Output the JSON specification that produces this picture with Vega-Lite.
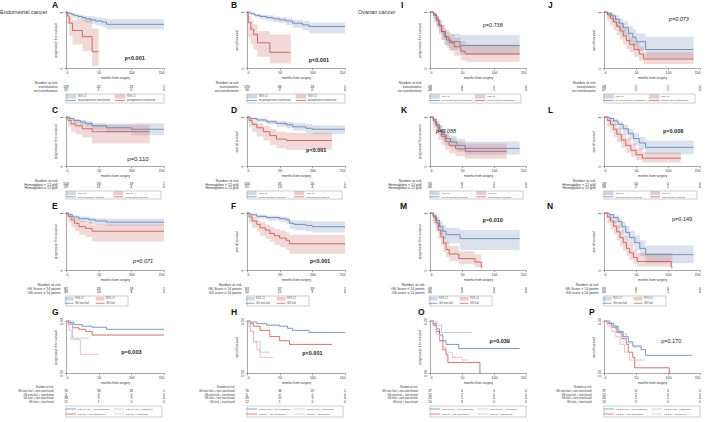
{
"$schema": "https://vega.github.io/schema/vega-lite/v6.json",
"padding": 0,
"config": {
 "font": "Liberation Sans",
 "view": {"stroke": null},
 "axis": {"grid": false, "labelFontSize": 3.5, "titleFontSize": 3.2, "titleFontWeight": "normal", "tickSize": 1.8, "tickWidth": 0.5, "domainWidth": 0.5, "domainColor": "#555", "tickColor": "#555", "labelColor": "#333", "titleColor": "#333", "labelPadding": 1, "titlePadding": 1.5},
 "title": {"fontSize": 8.5, "fontWeight": "bold", "anchor": "start", "frame": "group", "offset": 1, "color": "#111"},
 "range": {"category": ["#5a7dab", "#c0504d", "#a9c0da", "#eab3bd"]},
 "line": {"interpolate": "step-after", "strokeWidth": 0.8},
 "area": {"interpolate": "step-after", "opacity": 0.22},
 "text": {"color": "#222"}
},
"datasets": {
 "km": [
  {"p":"A","g":"a","t":0,"s":1,"lo":1,"hi":1},{"p":"A","g":"a","t":3,"s":0.98,"lo":0.95,"hi":1},{"p":"A","g":"a","t":8,"s":0.96,"lo":0.92,"hi":0.99},{"p":"A","g":"a","t":12,"s":0.94,"lo":0.89,"hi":0.97},{"p":"A","g":"a","t":18,"s":0.92,"lo":0.86,"hi":0.96},{"p":"A","g":"a","t":25,"s":0.9,"lo":0.84,"hi":0.94},{"p":"A","g":"a","t":30,"s":0.88,"lo":0.81,"hi":0.93},{"p":"A","g":"a","t":38,"s":0.86,"lo":0.79,"hi":0.92},{"p":"A","g":"a","t":45,"s":0.84,"lo":0.76,"hi":0.9},{"p":"A","g":"a","t":55,"s":0.82,"lo":0.73,"hi":0.89},{"p":"A","g":"a","t":62,"s":0.78,"lo":0.69,"hi":0.87},{"p":"A","g":"a","t":150,"s":0.78,"lo":0.69,"hi":0.87},
  {"p":"A","g":"b","t":0,"s":1,"lo":1,"hi":1},{"p":"A","g":"b","t":2,"s":0.93,"lo":0.78,"hi":0.98},{"p":"A","g":"b","t":5,"s":0.8,"lo":0.58,"hi":0.92},{"p":"A","g":"b","t":10,"s":0.67,"lo":0.42,"hi":0.86},{"p":"A","g":"b","t":25,"s":0.56,"lo":0.3,"hi":0.86},{"p":"A","g":"b","t":40,"s":0.29,"lo":0.03,"hi":0.7},{"p":"A","g":"b","t":50,"s":0.29,"lo":0.03,"hi":0.7},
  {"p":"B","g":"a","t":0,"s":1,"lo":1,"hi":1},{"p":"B","g":"a","t":5,"s":0.97,"lo":0.94,"hi":0.99},{"p":"B","g":"a","t":12,"s":0.94,"lo":0.9,"hi":0.97},{"p":"B","g":"a","t":20,"s":0.92,"lo":0.87,"hi":0.95},{"p":"B","g":"a","t":30,"s":0.9,"lo":0.85,"hi":0.94},{"p":"B","g":"a","t":40,"s":0.88,"lo":0.82,"hi":0.92},{"p":"B","g":"a","t":50,"s":0.86,"lo":0.8,"hi":0.91},{"p":"B","g":"a","t":60,"s":0.84,"lo":0.77,"hi":0.89},{"p":"B","g":"a","t":70,"s":0.8,"lo":0.72,"hi":0.86},{"p":"B","g":"a","t":85,"s":0.77,"lo":0.68,"hi":0.84},{"p":"B","g":"a","t":95,"s":0.74,"lo":0.62,"hi":0.81},{"p":"B","g":"a","t":150,"s":0.74,"lo":0.62,"hi":0.81},
  {"p":"B","g":"b","t":0,"s":1,"lo":1,"hi":1},{"p":"B","g":"b","t":2,"s":0.81,"lo":0.55,"hi":0.93},{"p":"B","g":"b","t":6,"s":0.69,"lo":0.42,"hi":0.85},{"p":"B","g":"b","t":10,"s":0.6,"lo":0.33,"hi":0.78},{"p":"B","g":"b","t":16,"s":0.45,"lo":0.2,"hi":0.66},{"p":"B","g":"b","t":35,"s":0.28,"lo":0.08,"hi":0.6},{"p":"B","g":"b","t":67,"s":0.28,"lo":0.08,"hi":0.6},
  {"p":"C","g":"a","t":0,"s":1,"lo":1,"hi":1},{"p":"C","g":"a","t":5,"s":0.97,"lo":0.93,"hi":0.99},{"p":"C","g":"a","t":12,"s":0.93,"lo":0.88,"hi":0.96},{"p":"C","g":"a","t":22,"s":0.9,"lo":0.84,"hi":0.94},{"p":"C","g":"a","t":30,"s":0.87,"lo":0.8,"hi":0.92},{"p":"C","g":"a","t":40,"s":0.82,"lo":0.74,"hi":0.88},{"p":"C","g":"a","t":62,"s":0.78,"lo":0.69,"hi":0.86},{"p":"C","g":"a","t":100,"s":0.75,"lo":0.63,"hi":0.87},{"p":"C","g":"a","t":150,"s":0.75,"lo":0.63,"hi":0.87},
  {"p":"C","g":"b","t":0,"s":1,"lo":1,"hi":1},{"p":"C","g":"b","t":3,"s":0.93,"lo":0.8,"hi":0.98},{"p":"C","g":"b","t":8,"s":0.86,"lo":0.7,"hi":0.94},{"p":"C","g":"b","t":15,"s":0.82,"lo":0.65,"hi":0.91},{"p":"C","g":"b","t":25,"s":0.76,"lo":0.58,"hi":0.87},{"p":"C","g":"b","t":40,"s":0.7,"lo":0.46,"hi":0.84},{"p":"C","g":"b","t":128,"s":0.7,"lo":0.46,"hi":0.84},
  {"p":"D","g":"a","t":0,"s":1,"lo":1,"hi":1},{"p":"D","g":"a","t":5,"s":0.97,"lo":0.94,"hi":0.99},{"p":"D","g":"a","t":15,"s":0.94,"lo":0.9,"hi":0.97},{"p":"D","g":"a","t":30,"s":0.9,"lo":0.85,"hi":0.94},{"p":"D","g":"a","t":45,"s":0.87,"lo":0.8,"hi":0.92},{"p":"D","g":"a","t":60,"s":0.84,"lo":0.77,"hi":0.9},{"p":"D","g":"a","t":70,"s":0.8,"lo":0.72,"hi":0.87},{"p":"D","g":"a","t":90,"s":0.77,"lo":0.68,"hi":0.85},{"p":"D","g":"a","t":100,"s":0.75,"lo":0.65,"hi":0.83},{"p":"D","g":"a","t":150,"s":0.75,"lo":0.65,"hi":0.83},
  {"p":"D","g":"b","t":0,"s":1,"lo":1,"hi":1},{"p":"D","g":"b","t":3,"s":0.93,"lo":0.8,"hi":0.98},{"p":"D","g":"b","t":8,"s":0.85,"lo":0.69,"hi":0.93},{"p":"D","g":"b","t":15,"s":0.78,"lo":0.6,"hi":0.88},{"p":"D","g":"b","t":25,"s":0.7,"lo":0.52,"hi":0.82},{"p":"D","g":"b","t":35,"s":0.62,"lo":0.43,"hi":0.76},{"p":"D","g":"b","t":45,"s":0.55,"lo":0.36,"hi":0.7},{"p":"D","g":"b","t":60,"s":0.52,"lo":0.33,"hi":0.68},{"p":"D","g":"b","t":130,"s":0.52,"lo":0.33,"hi":0.68},
  {"p":"E","g":"a","t":0,"s":1,"lo":1,"hi":1},{"p":"E","g":"a","t":4,"s":0.97,"lo":0.94,"hi":0.99},{"p":"E","g":"a","t":10,"s":0.93,"lo":0.88,"hi":0.96},{"p":"E","g":"a","t":20,"s":0.9,"lo":0.84,"hi":0.94},{"p":"E","g":"a","t":35,"s":0.88,"lo":0.81,"hi":0.92},{"p":"E","g":"a","t":45,"s":0.86,"lo":0.79,"hi":0.91},{"p":"E","g":"a","t":62,"s":0.84,"lo":0.77,"hi":0.9},{"p":"E","g":"a","t":150,"s":0.84,"lo":0.77,"hi":0.9},
  {"p":"E","g":"b","t":0,"s":1,"lo":1,"hi":1},{"p":"E","g":"b","t":3,"s":0.94,"lo":0.84,"hi":0.98},{"p":"E","g":"b","t":8,"s":0.88,"lo":0.76,"hi":0.94},{"p":"E","g":"b","t":13,"s":0.82,"lo":0.69,"hi":0.9},{"p":"E","g":"b","t":20,"s":0.76,"lo":0.62,"hi":0.86},{"p":"E","g":"b","t":30,"s":0.73,"lo":0.58,"hi":0.84},{"p":"E","g":"b","t":40,"s":0.68,"lo":0.5,"hi":0.8},{"p":"E","g":"b","t":150,"s":0.68,"lo":0.5,"hi":0.8},
  {"p":"F","g":"a","t":0,"s":1,"lo":1,"hi":1},{"p":"F","g":"a","t":5,"s":0.97,"lo":0.94,"hi":0.99},{"p":"F","g":"a","t":15,"s":0.94,"lo":0.9,"hi":0.97},{"p":"F","g":"a","t":30,"s":0.92,"lo":0.87,"hi":0.95},{"p":"F","g":"a","t":50,"s":0.9,"lo":0.84,"hi":0.94},{"p":"F","g":"a","t":60,"s":0.88,"lo":0.81,"hi":0.93},{"p":"F","g":"a","t":65,"s":0.82,"lo":0.73,"hi":0.88},{"p":"F","g":"a","t":72,"s":0.8,"lo":0.7,"hi":0.87},{"p":"F","g":"a","t":90,"s":0.78,"lo":0.68,"hi":0.86},{"p":"F","g":"a","t":100,"s":0.76,"lo":0.66,"hi":0.85},{"p":"F","g":"a","t":150,"s":0.76,"lo":0.66,"hi":0.85},
  {"p":"F","g":"b","t":0,"s":1,"lo":1,"hi":1},{"p":"F","g":"b","t":3,"s":0.93,"lo":0.83,"hi":0.97},{"p":"F","g":"b","t":8,"s":0.86,"lo":0.74,"hi":0.93},{"p":"F","g":"b","t":15,"s":0.8,"lo":0.67,"hi":0.88},{"p":"F","g":"b","t":20,"s":0.74,"lo":0.6,"hi":0.84},{"p":"F","g":"b","t":28,"s":0.7,"lo":0.55,"hi":0.8},{"p":"F","g":"b","t":35,"s":0.64,"lo":0.49,"hi":0.76},{"p":"F","g":"b","t":42,"s":0.6,"lo":0.44,"hi":0.72},{"p":"F","g":"b","t":50,"s":0.56,"lo":0.4,"hi":0.69},{"p":"F","g":"b","t":60,"s":0.52,"lo":0.35,"hi":0.66},{"p":"F","g":"b","t":65,"s":0.46,"lo":0.28,"hi":0.62},{"p":"F","g":"b","t":150,"s":0.46,"lo":0.28,"hi":0.62},
  {"p":"G","g":"a","t":0,"s":1},{"p":"G","g":"a","t":5,"s":0.97},{"p":"G","g":"a","t":12,"s":0.93},{"p":"G","g":"a","t":25,"s":0.9},{"p":"G","g":"a","t":40,"s":0.88},{"p":"G","g":"a","t":62,"s":0.84},{"p":"G","g":"a","t":150,"s":0.84},
  {"p":"G","g":"b","t":0,"s":1},{"p":"G","g":"b","t":4,"s":0.94},{"p":"G","g":"b","t":10,"s":0.87},{"p":"G","g":"b","t":20,"s":0.84},{"p":"G","g":"b","t":30,"s":0.8},{"p":"G","g":"b","t":40,"s":0.73},{"p":"G","g":"b","t":150,"s":0.73},
  {"p":"G","g":"c","t":0,"s":1},{"p":"G","g":"c","t":10,"s":0.67},{"p":"G","g":"c","t":35,"s":0.67},
  {"p":"G","g":"d","t":0,"s":1},{"p":"G","g":"d","t":3,"s":0.91},{"p":"G","g":"d","t":5,"s":0.82},{"p":"G","g":"d","t":8,"s":0.64},{"p":"G","g":"d","t":22,"s":0.36},{"p":"G","g":"d","t":50,"s":0.36},
  {"p":"H","g":"a","t":0,"s":1},{"p":"H","g":"a","t":5,"s":0.98},{"p":"H","g":"a","t":15,"s":0.95},{"p":"H","g":"a","t":30,"s":0.92},{"p":"H","g":"a","t":50,"s":0.9},{"p":"H","g":"a","t":62,"s":0.86},{"p":"H","g":"a","t":70,"s":0.82},{"p":"H","g":"a","t":95,"s":0.78},{"p":"H","g":"a","t":150,"s":0.78},
  {"p":"H","g":"b","t":0,"s":1},{"p":"H","g":"b","t":5,"s":0.95},{"p":"H","g":"b","t":10,"s":0.9},{"p":"H","g":"b","t":20,"s":0.82},{"p":"H","g":"b","t":35,"s":0.7},{"p":"H","g":"b","t":50,"s":0.62},{"p":"H","g":"b","t":65,"s":0.55},{"p":"H","g":"b","t":130,"s":0.55},
  {"p":"H","g":"c","t":0,"s":1},{"p":"H","g":"c","t":5,"s":0.8},{"p":"H","g":"c","t":10,"s":0.6},{"p":"H","g":"c","t":20,"s":0.4},{"p":"H","g":"c","t":35,"s":0.4},
  {"p":"H","g":"d","t":0,"s":1},{"p":"H","g":"d","t":3,"s":0.9},{"p":"H","g":"d","t":6,"s":0.8},{"p":"H","g":"d","t":10,"s":0.6},{"p":"H","g":"d","t":15,"s":0.45},{"p":"H","g":"d","t":20,"s":0.3},{"p":"H","g":"d","t":40,"s":0.3},
  {"p":"I","g":"a","t":0,"s":1,"lo":1,"hi":1},{"p":"I","g":"a","t":5,"s":0.96,"lo":0.88,"hi":0.99},{"p":"I","g":"a","t":10,"s":0.88,"lo":0.76,"hi":0.94},{"p":"I","g":"a","t":14,"s":0.77,"lo":0.63,"hi":0.86},{"p":"I","g":"a","t":18,"s":0.65,"lo":0.5,"hi":0.77},{"p":"I","g":"a","t":22,"s":0.57,"lo":0.42,"hi":0.7},{"p":"I","g":"a","t":26,"s":0.5,"lo":0.35,"hi":0.64},{"p":"I","g":"a","t":32,"s":0.47,"lo":0.32,"hi":0.61},{"p":"I","g":"a","t":47,"s":0.4,"lo":0.23,"hi":0.59},{"p":"I","g":"a","t":140,"s":0.4,"lo":0.23,"hi":0.59},
  {"p":"I","g":"b","t":0,"s":1,"lo":1,"hi":1},{"p":"I","g":"b","t":6,"s":0.94,"lo":0.82,"hi":0.98},{"p":"I","g":"b","t":10,"s":0.85,"lo":0.71,"hi":0.93},{"p":"I","g":"b","t":14,"s":0.75,"lo":0.6,"hi":0.85},{"p":"I","g":"b","t":18,"s":0.65,"lo":0.5,"hi":0.77},{"p":"I","g":"b","t":24,"s":0.55,"lo":0.4,"hi":0.68},{"p":"I","g":"b","t":30,"s":0.45,"lo":0.3,"hi":0.6},{"p":"I","g":"b","t":38,"s":0.38,"lo":0.22,"hi":0.54},{"p":"I","g":"b","t":48,"s":0.3,"lo":0.14,"hi":0.48},{"p":"I","g":"b","t":55,"s":0.25,"lo":0.11,"hi":0.42},{"p":"I","g":"b","t":140,"s":0.25,"lo":0.11,"hi":0.42},
  {"p":"J","g":"a","t":0,"s":1,"lo":1,"hi":1},{"p":"J","g":"a","t":5,"s":0.98,"lo":0.9,"hi":1},{"p":"J","g":"a","t":12,"s":0.93,"lo":0.82,"hi":0.97},{"p":"J","g":"a","t":18,"s":0.87,"lo":0.74,"hi":0.94},{"p":"J","g":"a","t":24,"s":0.8,"lo":0.66,"hi":0.89},{"p":"J","g":"a","t":30,"s":0.72,"lo":0.57,"hi":0.83},{"p":"J","g":"a","t":38,"s":0.62,"lo":0.46,"hi":0.75},{"p":"J","g":"a","t":45,"s":0.55,"lo":0.39,"hi":0.69},{"p":"J","g":"a","t":50,"s":0.47,"lo":0.31,"hi":0.62},{"p":"J","g":"a","t":65,"s":0.33,"lo":0.17,"hi":0.56},{"p":"J","g":"a","t":140,"s":0.33,"lo":0.17,"hi":0.56},
  {"p":"J","g":"b","t":0,"s":1,"lo":1,"hi":1},{"p":"J","g":"b","t":5,"s":0.95,"lo":0.85,"hi":0.98},{"p":"J","g":"b","t":10,"s":0.89,"lo":0.76,"hi":0.95},{"p":"J","g":"b","t":15,"s":0.82,"lo":0.68,"hi":0.9},{"p":"J","g":"b","t":20,"s":0.74,"lo":0.59,"hi":0.84},{"p":"J","g":"b","t":25,"s":0.66,"lo":0.51,"hi":0.78},{"p":"J","g":"b","t":30,"s":0.57,"lo":0.42,"hi":0.7},{"p":"J","g":"b","t":35,"s":0.49,"lo":0.34,"hi":0.62},{"p":"J","g":"b","t":40,"s":0.42,"lo":0.28,"hi":0.55},{"p":"J","g":"b","t":47,"s":0.33,"lo":0.2,"hi":0.46},{"p":"J","g":"b","t":55,"s":0.25,"lo":0.13,"hi":0.38},{"p":"J","g":"b","t":62,"s":0.16,"lo":0.07,"hi":0.28},{"p":"J","g":"b","t":140,"s":0.16,"lo":0.07,"hi":0.28},
  {"p":"K","g":"a","t":0,"s":1,"lo":1,"hi":1},{"p":"K","g":"a","t":5,"s":0.95,"lo":0.86,"hi":0.98},{"p":"K","g":"a","t":10,"s":0.85,"lo":0.74,"hi":0.92},{"p":"K","g":"a","t":15,"s":0.74,"lo":0.61,"hi":0.83},{"p":"K","g":"a","t":20,"s":0.64,"lo":0.51,"hi":0.74},{"p":"K","g":"a","t":25,"s":0.56,"lo":0.43,"hi":0.67},{"p":"K","g":"a","t":32,"s":0.49,"lo":0.36,"hi":0.61},{"p":"K","g":"a","t":42,"s":0.42,"lo":0.29,"hi":0.55},{"p":"K","g":"a","t":55,"s":0.36,"lo":0.23,"hi":0.5},{"p":"K","g":"a","t":140,"s":0.36,"lo":0.23,"hi":0.5},
  {"p":"K","g":"b","t":0,"s":1,"lo":1,"hi":1},{"p":"K","g":"b","t":5,"s":0.92,"lo":0.78,"hi":0.97},{"p":"K","g":"b","t":9,"s":0.82,"lo":0.66,"hi":0.91},{"p":"K","g":"b","t":13,"s":0.7,"lo":0.53,"hi":0.82},{"p":"K","g":"b","t":18,"s":0.6,"lo":0.43,"hi":0.74},{"p":"K","g":"b","t":24,"s":0.5,"lo":0.33,"hi":0.65},{"p":"K","g":"b","t":30,"s":0.42,"lo":0.26,"hi":0.57},{"p":"K","g":"b","t":40,"s":0.35,"lo":0.2,"hi":0.5},{"p":"K","g":"b","t":55,"s":0.3,"lo":0.15,"hi":0.46},{"p":"K","g":"b","t":120,"s":0.3,"lo":0.15,"hi":0.46},
  {"p":"L","g":"a","t":0,"s":1,"lo":1,"hi":1},{"p":"L","g":"a","t":8,"s":0.97,"lo":0.9,"hi":0.99},{"p":"L","g":"a","t":15,"s":0.92,"lo":0.83,"hi":0.96},{"p":"L","g":"a","t":22,"s":0.85,"lo":0.74,"hi":0.91},{"p":"L","g":"a","t":30,"s":0.76,"lo":0.64,"hi":0.84},{"p":"L","g":"a","t":38,"s":0.66,"lo":0.53,"hi":0.76},{"p":"L","g":"a","t":46,"s":0.56,"lo":0.42,"hi":0.67},{"p":"L","g":"a","t":55,"s":0.47,"lo":0.33,"hi":0.59},{"p":"L","g":"a","t":65,"s":0.38,"lo":0.24,"hi":0.52},{"p":"L","g":"a","t":140,"s":0.38,"lo":0.24,"hi":0.52},
  {"p":"L","g":"b","t":0,"s":1,"lo":1,"hi":1},{"p":"L","g":"b","t":5,"s":0.93,"lo":0.8,"hi":0.98},{"p":"L","g":"b","t":10,"s":0.85,"lo":0.7,"hi":0.93},{"p":"L","g":"b","t":15,"s":0.75,"lo":0.59,"hi":0.86},{"p":"L","g":"b","t":20,"s":0.65,"lo":0.49,"hi":0.77},{"p":"L","g":"b","t":27,"s":0.53,"lo":0.37,"hi":0.66},{"p":"L","g":"b","t":34,"s":0.42,"lo":0.27,"hi":0.56},{"p":"L","g":"b","t":42,"s":0.32,"lo":0.19,"hi":0.46},{"p":"L","g":"b","t":50,"s":0.23,"lo":0.12,"hi":0.36},{"p":"L","g":"b","t":60,"s":0.16,"lo":0.07,"hi":0.28},{"p":"L","g":"b","t":120,"s":0.16,"lo":0.07,"hi":0.28},
  {"p":"M","g":"a","t":0,"s":1,"lo":1,"hi":1},{"p":"M","g":"a","t":5,"s":0.95,"lo":0.86,"hi":0.99},{"p":"M","g":"a","t":10,"s":0.87,"lo":0.75,"hi":0.94},{"p":"M","g":"a","t":15,"s":0.76,"lo":0.62,"hi":0.86},{"p":"M","g":"a","t":20,"s":0.68,"lo":0.54,"hi":0.79},{"p":"M","g":"a","t":25,"s":0.62,"lo":0.47,"hi":0.74},{"p":"M","g":"a","t":47,"s":0.55,"lo":0.35,"hi":0.7},{"p":"M","g":"a","t":140,"s":0.55,"lo":0.35,"hi":0.7},
  {"p":"M","g":"b","t":0,"s":1,"lo":1,"hi":1},{"p":"M","g":"b","t":5,"s":0.93,"lo":0.8,"hi":0.98},{"p":"M","g":"b","t":9,"s":0.83,"lo":0.68,"hi":0.91},{"p":"M","g":"b","t":13,"s":0.7,"lo":0.55,"hi":0.81},{"p":"M","g":"b","t":17,"s":0.58,"lo":0.43,"hi":0.71},{"p":"M","g":"b","t":21,"s":0.47,"lo":0.32,"hi":0.6},{"p":"M","g":"b","t":25,"s":0.36,"lo":0.23,"hi":0.5},{"p":"M","g":"b","t":30,"s":0.28,"lo":0.16,"hi":0.42},{"p":"M","g":"b","t":45,"s":0.2,"lo":0.1,"hi":0.33},{"p":"M","g":"b","t":70,"s":0.14,"lo":0.05,"hi":0.27},{"p":"M","g":"b","t":80,"s":0.05,"lo":0.01,"hi":0.15},{"p":"M","g":"b","t":82,"s":0.05,"lo":0.01,"hi":0.15},
  {"p":"N","g":"a","t":0,"s":1,"lo":1,"hi":1},{"p":"N","g":"a","t":8,"s":0.97,"lo":0.9,"hi":0.99},{"p":"N","g":"a","t":15,"s":0.92,"lo":0.82,"hi":0.96},{"p":"N","g":"a","t":22,"s":0.85,"lo":0.73,"hi":0.92},{"p":"N","g":"a","t":28,"s":0.76,"lo":0.63,"hi":0.85},{"p":"N","g":"a","t":34,"s":0.66,"lo":0.52,"hi":0.77},{"p":"N","g":"a","t":40,"s":0.57,"lo":0.43,"hi":0.69},{"p":"N","g":"a","t":48,"s":0.48,"lo":0.34,"hi":0.61},{"p":"N","g":"a","t":56,"s":0.38,"lo":0.24,"hi":0.52},{"p":"N","g":"a","t":65,"s":0.27,"lo":0.12,"hi":0.43},{"p":"N","g":"a","t":140,"s":0.27,"lo":0.12,"hi":0.43},
  {"p":"N","g":"b","t":0,"s":1,"lo":1,"hi":1},{"p":"N","g":"b","t":5,"s":0.93,"lo":0.82,"hi":0.98},{"p":"N","g":"b","t":10,"s":0.86,"lo":0.72,"hi":0.93},{"p":"N","g":"b","t":15,"s":0.77,"lo":0.62,"hi":0.87},{"p":"N","g":"b","t":20,"s":0.67,"lo":0.52,"hi":0.79},{"p":"N","g":"b","t":25,"s":0.57,"lo":0.42,"hi":0.7},{"p":"N","g":"b","t":30,"s":0.48,"lo":0.33,"hi":0.61},{"p":"N","g":"b","t":35,"s":0.38,"lo":0.25,"hi":0.52},{"p":"N","g":"b","t":40,"s":0.3,"lo":0.18,"hi":0.44},{"p":"N","g":"b","t":46,"s":0.22,"lo":0.11,"hi":0.35},{"p":"N","g":"b","t":52,"s":0.15,"lo":0.06,"hi":0.3},{"p":"N","g":"b","t":105,"s":0.05,"lo":0.01,"hi":0.3},{"p":"N","g":"b","t":107,"s":0.05,"lo":0.01,"hi":0.3},
  {"p":"O","g":"a","t":0,"s":1},{"p":"O","g":"a","t":5,"s":0.95},{"p":"O","g":"a","t":10,"s":0.85},{"p":"O","g":"a","t":15,"s":0.73},{"p":"O","g":"a","t":20,"s":0.62},{"p":"O","g":"a","t":25,"s":0.55},{"p":"O","g":"a","t":45,"s":0.47},{"p":"O","g":"a","t":140,"s":0.47},
  {"p":"O","g":"b","t":0,"s":1},{"p":"O","g":"b","t":5,"s":0.92},{"p":"O","g":"b","t":10,"s":0.8},{"p":"O","g":"b","t":15,"s":0.62},{"p":"O","g":"b","t":20,"s":0.45},{"p":"O","g":"b","t":25,"s":0.35},{"p":"O","g":"b","t":28,"s":0.2},{"p":"O","g":"b","t":78,"s":0},{"p":"O","g":"b","t":79,"s":0},
  {"p":"O","g":"c","t":0,"s":1},{"p":"O","g":"c","t":10,"s":0.92},{"p":"O","g":"c","t":18,"s":0.78},{"p":"O","g":"c","t":65,"s":0.78},
  {"p":"O","g":"d","t":0,"s":1},{"p":"O","g":"d","t":5,"s":0.9},{"p":"O","g":"d","t":10,"s":0.75},{"p":"O","g":"d","t":15,"s":0.6},{"p":"O","g":"d","t":20,"s":0.5},{"p":"O","g":"d","t":25,"s":0.4},{"p":"O","g":"d","t":35,"s":0.3},{"p":"O","g":"d","t":50,"s":0.25},{"p":"O","g":"d","t":60,"s":0.25},
  {"p":"P","g":"a","t":0,"s":1},{"p":"P","g":"a","t":8,"s":0.96},{"p":"P","g":"a","t":15,"s":0.9},{"p":"P","g":"a","t":22,"s":0.8},{"p":"P","g":"a","t":30,"s":0.7},{"p":"P","g":"a","t":38,"s":0.6},{"p":"P","g":"a","t":45,"s":0.52},{"p":"P","g":"a","t":58,"s":0.45},{"p":"P","g":"a","t":65,"s":0.34},{"p":"P","g":"a","t":138,"s":0.34},
  {"p":"P","g":"b","t":0,"s":1},{"p":"P","g":"b","t":5,"s":0.95},{"p":"P","g":"b","t":12,"s":0.88},{"p":"P","g":"b","t":20,"s":0.78},{"p":"P","g":"b","t":28,"s":0.66},{"p":"P","g":"b","t":35,"s":0.55},{"p":"P","g":"b","t":38,"s":0.4},{"p":"P","g":"b","t":45,"s":0.3},{"p":"P","g":"b","t":48,"s":0.1},{"p":"P","g":"b","t":102,"s":0},{"p":"P","g":"b","t":104,"s":0},
  {"p":"P","g":"c","t":0,"s":1},{"p":"P","g":"c","t":10,"s":0.92},{"p":"P","g":"c","t":18,"s":0.83},{"p":"P","g":"c","t":25,"s":0.75},{"p":"P","g":"c","t":35,"s":0.58},{"p":"P","g":"c","t":45,"s":0.5},{"p":"P","g":"c","t":60,"s":0.5},
  {"p":"P","g":"d","t":0,"s":1},{"p":"P","g":"d","t":6,"s":0.9},{"p":"P","g":"d","t":12,"s":0.8},{"p":"P","g":"d","t":18,"s":0.7},{"p":"P","g":"d","t":25,"s":0.55},{"p":"P","g":"d","t":32,"s":0.4},{"p":"P","g":"d","t":40,"s":0.25},{"p":"P","g":"d","t":65,"s":0.25}
 ],
 "pv": [
  {"p":"A","t":105,"s":0.18,"label":"p<0.001"},{"p":"B","t":110,"s":0.15,"label":"p<0.001"},{"p":"C","t":110,"s":0.14,"label":"p=0.110"},{"p":"D","t":106,"s":0.32,"label":"p<0.001"},
  {"p":"E","t":118,"s":0.15,"label":"p=0.071"},{"p":"F","t":112,"s":0.15,"label":"p<0.001"},{"p":"G","t":100,"s":0.4,"label":"p=0.003"},{"p":"H","t":100,"s":0.38,"label":"p<0.001"},
  {"p":"I","t":98,"s":0.76,"label":"p=0.738"},{"p":"J","t":117,"s":0.88,"label":"p=0.073"},{"p":"K","t":25,"s":0.72,"label":"p=0.088"},{"p":"L","t":108,"s":0.72,"label":"p=0.008"},
  {"p":"M","t":98,"s":0.87,"label":"p=0.010"},{"p":"N","t":122,"s":0.89,"label":"p=0.149"},{"p":"O","t":109,"s":0.62,"label":"p=0.039"},{"p":"P","t":105,"s":0.62,"label":"p=0.170"}
 ],
 "risk": [
  {"p":"A","r":"transfusions","t":0,"n":119},{"p":"A","r":"transfusions","t":50,"n":42},{"p":"A","r":"transfusions","t":100,"n":23},{"p":"A","r":"transfusions","t":150,"n":1},
  {"p":"A","r":"no transfusions","t":0,"n":15},{"p":"A","r":"no transfusions","t":50,"n":1},{"p":"A","r":"no transfusions","t":100,"n":0},{"p":"A","r":"no transfusions","t":150,"n":0},
  {"p":"B","r":"transfusions","t":0,"n":120},{"p":"B","r":"transfusions","t":50,"n":46},{"p":"B","r":"transfusions","t":100,"n":24},{"p":"B","r":"transfusions","t":150,"n":1},
  {"p":"B","r":"no transfusions","t":0,"n":16},{"p":"B","r":"no transfusions","t":50,"n":2},{"p":"B","r":"no transfusions","t":100,"n":0},{"p":"B","r":"no transfusions","t":150,"n":0},
  {"p":"C","r":"Hemoglobin > 12 g/dl","t":0,"n":104},{"p":"C","r":"Hemoglobin > 12 g/dl","t":50,"n":33},{"p":"C","r":"Hemoglobin > 12 g/dl","t":100,"n":19},{"p":"C","r":"Hemoglobin > 12 g/dl","t":150,"n":1},
  {"p":"C","r":"Hemoglobin ≤ 12 g/dl","t":0,"n":29},{"p":"C","r":"Hemoglobin ≤ 12 g/dl","t":50,"n":11},{"p":"C","r":"Hemoglobin ≤ 12 g/dl","t":100,"n":4},{"p":"C","r":"Hemoglobin ≤ 12 g/dl","t":150,"n":0},
  {"p":"D","r":"Hemoglobin > 12 g/dl","t":0,"n":104},{"p":"D","r":"Hemoglobin > 12 g/dl","t":50,"n":35},{"p":"D","r":"Hemoglobin > 12 g/dl","t":100,"n":20},{"p":"D","r":"Hemoglobin > 12 g/dl","t":150,"n":1},
  {"p":"D","r":"Hemoglobin ≤ 12 g/dl","t":0,"n":31},{"p":"D","r":"Hemoglobin ≤ 12 g/dl","t":50,"n":13},{"p":"D","r":"Hemoglobin ≤ 12 g/dl","t":100,"n":4},{"p":"D","r":"Hemoglobin ≤ 12 g/dl","t":150,"n":0},
  {"p":"E","r":"GS Score < 14 points","t":0,"n":82},{"p":"E","r":"GS Score < 14 points","t":50,"n":33},{"p":"E","r":"GS Score < 14 points","t":100,"n":19},{"p":"E","r":"GS Score < 14 points","t":150,"n":1},
  {"p":"E","r":"GS score ≥ 14 points","t":0,"n":49},{"p":"E","r":"GS score ≥ 14 points","t":50,"n":10},{"p":"E","r":"GS score ≥ 14 points","t":100,"n":3},{"p":"E","r":"GS score ≥ 14 points","t":150,"n":0},
  {"p":"F","r":"GS Score < 14 points","t":0,"n":83},{"p":"F","r":"GS Score < 14 points","t":50,"n":37},{"p":"F","r":"GS Score < 14 points","t":100,"n":19},{"p":"F","r":"GS Score < 14 points","t":150,"n":1},
  {"p":"F","r":"GS score ≥ 14 points","t":0,"n":50},{"p":"F","r":"GS score ≥ 14 points","t":50,"n":11},{"p":"F","r":"GS score ≥ 14 points","t":100,"n":3},{"p":"F","r":"GS score ≥ 14 points","t":150,"n":0},
  {"p":"G","r":"GS-non-frail + non-transfused","t":0,"n":76},{"p":"G","r":"GS-non-frail + non-transfused","t":50,"n":33},{"p":"G","r":"GS-non-frail + non-transfused","t":100,"n":18},{"p":"G","r":"GS-non-frail + non-transfused","t":150,"n":1},
  {"p":"G","r":"GS-non-frail + transfused","t":0,"n":3},{"p":"G","r":"GS-non-frail + transfused","t":50,"n":0},{"p":"G","r":"GS-non-frail + transfused","t":100,"n":0},{"p":"G","r":"GS-non-frail + transfused","t":150,"n":0},
  {"p":"G","r":"GS-frail + non-transfused","t":0,"n":38},{"p":"G","r":"GS-frail + non-transfused","t":50,"n":9},{"p":"G","r":"GS-frail + non-transfused","t":100,"n":3},{"p":"G","r":"GS-frail + non-transfused","t":150,"n":0},
  {"p":"G","r":"GS-frail + transfused","t":0,"n":11},{"p":"G","r":"GS-frail + transfused","t":50,"n":1},{"p":"G","r":"GS-frail + transfused","t":100,"n":0},{"p":"G","r":"GS-frail + transfused","t":150,"n":0},
  {"p":"H","r":"GS-non-frail + non-transfused","t":0,"n":76},{"p":"H","r":"GS-non-frail + non-transfused","t":50,"n":36},{"p":"H","r":"GS-non-frail + non-transfused","t":100,"n":19},{"p":"H","r":"GS-non-frail + non-transfused","t":150,"n":1},
  {"p":"H","r":"GS-non-frail + transfused","t":0,"n":5},{"p":"H","r":"GS-non-frail + transfused","t":50,"n":0},{"p":"H","r":"GS-non-frail + transfused","t":100,"n":0},{"p":"H","r":"GS-non-frail + transfused","t":150,"n":0},
  {"p":"H","r":"GS-frail + non-transfused","t":0,"n":39},{"p":"H","r":"GS-frail + non-transfused","t":50,"n":10},{"p":"H","r":"GS-frail + non-transfused","t":100,"n":3},{"p":"H","r":"GS-frail + non-transfused","t":150,"n":0},
  {"p":"H","r":"GS-frail + transfused","t":0,"n":12},{"p":"H","r":"GS-frail + transfused","t":50,"n":1},{"p":"H","r":"GS-frail + transfused","t":100,"n":0},{"p":"H","r":"GS-frail + transfused","t":150,"n":0},
  {"p":"I","r":"transfusions","t":0,"n":48},{"p":"I","r":"transfusions","t":50,"n":4},{"p":"I","r":"transfusions","t":100,"n":1},{"p":"I","r":"transfusions","t":150,"n":0},
  {"p":"I","r":"no transfusions","t":0,"n":48},{"p":"I","r":"no transfusions","t":50,"n":6},{"p":"I","r":"no transfusions","t":100,"n":1},{"p":"I","r":"no transfusions","t":150,"n":0},
  {"p":"J","r":"transfusions","t":0,"n":48},{"p":"J","r":"transfusions","t":50,"n":5},{"p":"J","r":"transfusions","t":100,"n":1},{"p":"J","r":"transfusions","t":150,"n":0},
  {"p":"J","r":"no transfusions","t":0,"n":47},{"p":"J","r":"no transfusions","t":50,"n":5},{"p":"J","r":"no transfusions","t":100,"n":1},{"p":"J","r":"no transfusions","t":150,"n":0},
  {"p":"K","r":"Hemoglobin > 12 g/dl","t":0,"n":56},{"p":"K","r":"Hemoglobin > 12 g/dl","t":50,"n":8},{"p":"K","r":"Hemoglobin > 12 g/dl","t":100,"n":2},{"p":"K","r":"Hemoglobin > 12 g/dl","t":150,"n":0},
  {"p":"K","r":"Hemoglobin ≤ 12 g/dl","t":0,"n":40},{"p":"K","r":"Hemoglobin ≤ 12 g/dl","t":50,"n":2},{"p":"K","r":"Hemoglobin ≤ 12 g/dl","t":100,"n":0},{"p":"K","r":"Hemoglobin ≤ 12 g/dl","t":150,"n":0},
  {"p":"L","r":"Hemoglobin > 12 g/dl","t":0,"n":58},{"p":"L","r":"Hemoglobin > 12 g/dl","t":50,"n":10},{"p":"L","r":"Hemoglobin > 12 g/dl","t":100,"n":2},{"p":"L","r":"Hemoglobin > 12 g/dl","t":150,"n":0},
  {"p":"L","r":"Hemoglobin ≤ 12 g/dl","t":0,"n":38},{"p":"L","r":"Hemoglobin ≤ 12 g/dl","t":50,"n":2},{"p":"L","r":"Hemoglobin ≤ 12 g/dl","t":100,"n":1},{"p":"L","r":"Hemoglobin ≤ 12 g/dl","t":150,"n":0},
  {"p":"M","r":"GS Score < 14 points","t":0,"n":49},{"p":"M","r":"GS Score < 14 points","t":50,"n":6},{"p":"M","r":"GS Score < 14 points","t":100,"n":3},{"p":"M","r":"GS Score < 14 points","t":150,"n":0},
  {"p":"M","r":"GS score ≥ 14 points","t":0,"n":46},{"p":"M","r":"GS score ≥ 14 points","t":50,"n":4},{"p":"M","r":"GS score ≥ 14 points","t":100,"n":0},{"p":"M","r":"GS score ≥ 14 points","t":150,"n":0},
  {"p":"N","r":"GS Score < 14 points","t":0,"n":49},{"p":"N","r":"GS Score < 14 points","t":50,"n":6},{"p":"N","r":"GS Score < 14 points","t":100,"n":3},{"p":"N","r":"GS Score < 14 points","t":150,"n":0},
  {"p":"N","r":"GS score ≥ 14 points","t":0,"n":44},{"p":"N","r":"GS score ≥ 14 points","t":50,"n":5},{"p":"N","r":"GS score ≥ 14 points","t":100,"n":1},{"p":"N","r":"GS score ≥ 14 points","t":150,"n":0},
  {"p":"O","r":"GS-non-frail + non-transfused","t":0,"n":37},{"p":"O","r":"GS-non-frail + non-transfused","t":50,"n":4},{"p":"O","r":"GS-non-frail + non-transfused","t":100,"n":3},{"p":"O","r":"GS-non-frail + non-transfused","t":150,"n":0},
  {"p":"O","r":"GS-non-frail + transfused","t":0,"n":12},{"p":"O","r":"GS-non-frail + transfused","t":50,"n":2},{"p":"O","r":"GS-non-frail + transfused","t":100,"n":0},{"p":"O","r":"GS-non-frail + transfused","t":150,"n":0},
  {"p":"O","r":"GS-frail + non-transfused","t":0,"n":25},{"p":"O","r":"GS-frail + non-transfused","t":50,"n":1},{"p":"O","r":"GS-frail + non-transfused","t":100,"n":0},{"p":"O","r":"GS-frail + non-transfused","t":150,"n":0},
  {"p":"O","r":"GS-frail + transfused","t":0,"n":20},{"p":"O","r":"GS-frail + transfused","t":50,"n":3},{"p":"O","r":"GS-frail + transfused","t":100,"n":0},{"p":"O","r":"GS-frail + transfused","t":150,"n":0},
  {"p":"P","r":"GS-non-frail + non-transfused","t":0,"n":37},{"p":"P","r":"GS-non-frail + non-transfused","t":50,"n":6},{"p":"P","r":"GS-non-frail + non-transfused","t":100,"n":3},{"p":"P","r":"GS-non-frail + non-transfused","t":150,"n":0},
  {"p":"P","r":"GS-non-frail + transfused","t":0,"n":12},{"p":"P","r":"GS-non-frail + transfused","t":50,"n":2},{"p":"P","r":"GS-non-frail + transfused","t":100,"n":0},{"p":"P","r":"GS-non-frail + transfused","t":150,"n":0},
  {"p":"P","r":"GS-frail + non-transfused","t":0,"n":24},{"p":"P","r":"GS-frail + non-transfused","t":50,"n":2},{"p":"P","r":"GS-frail + non-transfused","t":100,"n":1},{"p":"P","r":"GS-frail + non-transfused","t":150,"n":0},
  {"p":"P","r":"GS-frail + transfused","t":0,"n":19},{"p":"P","r":"GS-frail + transfused","t":50,"n":3},{"p":"P","r":"GS-frail + transfused","t":100,"n":0},{"p":"P","r":"GS-frail + transfused","t":150,"n":0}
 ],
 "leg": [
  {"lt":"tr","col":1,"row":1,"k":"ci","g":"a","label":"95% CI"},{"lt":"tr","col":2,"row":1,"k":"ci","g":"b","label":"95% CI"},{"lt":"tr","col":1,"row":2,"k":"ln","g":"a","label":"no perioperative transfusion"},{"lt":"tr","col":2,"row":2,"k":"ln","g":"b","label":"perioperative transfusion"},
  {"lt":"hb","col":1,"row":1,"k":"ci","g":"a","label":"95% CI"},{"lt":"hb","col":2,"row":1,"k":"ci","g":"b","label":"95% CI"},{"lt":"hb","col":1,"row":2,"k":"ln","g":"a","label":"no preoperative anemia"},{"lt":"hb","col":2,"row":2,"k":"ln","g":"b","label":"preoperative anemia"},
  {"lt":"gs","col":1,"row":1,"k":"ci","g":"a","label":"95% CI"},{"lt":"gs","col":2,"row":1,"k":"ci","g":"b","label":"95% CI"},{"lt":"gs","col":1,"row":2,"k":"ln","g":"a","label":"GS non-frail"},{"lt":"gs","col":2,"row":2,"k":"ln","g":"b","label":"GS frail"},
  {"lt":"g4","col":1,"row":1,"k":"ln","g":"a","label":"GS-non-frail + non-transfused"},{"lt":"g4","col":2,"row":1,"k":"ln","g":"c","label":"GS-non-frail + transfused"},{"lt":"g4","col":1,"row":2,"k":"ln","g":"b","label":"GS-frail + non-transfused"},{"lt":"g4","col":2,"row":2,"k":"ln","g":"d","label":"GS-frail + transfused"}
 ]
},
"spacing": 11,
"hconcat": [
 {
  "title": {"text": "Endometrial cancer", "fontSize": 5.5, "fontWeight": "normal", "frame": "bounds", "anchor": "start", "offset": -15, "color": "#333"},
  "columns": 2, "align": "each", "spacing": {"row": 1, "column": 21},
  "concat": [
   {"width":98,"height":56,"title":{"text":"A","dx":-14},"data":{"name":"km"},"transform":[{"filter":"datum.p=='A'"}],"encoding":{"x":{"field":"t","type":"quantitative","scale":{"domain":[0,150]},"axis":{"values":[0,50,100,150],"title":"months from surgery"}},"color":{"field":"g","type":"nominal","legend":null}},
    "layer":[{"mark":"area","encoding":{"y":{"field":"lo","type":"quantitative","title":"progression free survival","scale":{"domain":[0,1]},"axis":{"values":[0,0.25,0.5,0.75,1],"labelAngle":-90,"labelExpr":"replace(format(datum.value,'.2~f'),'0.','.')"}},"y2":{"field":"hi"}}},
     {"mark":"line","encoding":{"y":{"field":"s","type":"quantitative","title":"progression free survival"}}},
     {"data":{"name":"pv"},"transform":[{"filter":"datum.p=='A'"}],"mark":{"type":"text","fontSize":5.5,"fontWeight":"bold"},"encoding":{"x":{"field":"t","type":"quantitative"},"y":{"field":"s","type":"quantitative","title":"progression free survival"},"text":{"field":"label"},"color":{"value":"#222"}}}]},
   {"width":98,"height":56,"title":{"text":"B","dx":-16},"data":{"name":"km"},"transform":[{"filter":"datum.p=='B'"}],"encoding":{"x":{"field":"t","type":"quantitative","scale":{"domain":[0,150]},"axis":{"values":[0,50,100,150],"title":"months from surgery"}},"color":{"field":"g","type":"nominal","legend":null}},
    "layer":[{"mark":"area","encoding":{"y":{"field":"lo","type":"quantitative","title":"overall survival","scale":{"domain":[0,1]},"axis":{"values":[0,0.25,0.5,0.75,1],"labelAngle":-90,"labelExpr":"replace(format(datum.value,'.2~f'),'0.','.')"}},"y2":{"field":"hi"}}},
     {"mark":"line","encoding":{"y":{"field":"s","type":"quantitative","title":"overall survival"}}},
     {"data":{"name":"pv"},"transform":[{"filter":"datum.p=='B'"}],"mark":{"type":"text","fontSize":5.5,"fontWeight":"bold"},"encoding":{"x":{"field":"t","type":"quantitative"},"y":{"field":"s","type":"quantitative","title":"overall survival"},"text":{"field":"label"},"color":{"value":"#222"}}}]},
   {"width":98,"height":11,"data":{"name":"risk"},"transform":[{"filter":"datum.p=='A'"}],"mark":{"type":"text","fontSize":3.5,"color":"#222"},"encoding":{"x":{"field":"t","type":"quantitative","scale":{"domain":[0,150]},"axis":null},"y":{"field":"r","type":"nominal","scale":{"domain":["Number at risk","transfusions","no transfusions"]},"axis":{"title":null,"domain":false,"ticks":false,"labelFontSize":3.5,"labelPadding":9,"minExtent":66}},"text":{"field":"n"}}},
   {"width":98,"height":11,"data":{"name":"risk"},"transform":[{"filter":"datum.p=='B'"}],"mark":{"type":"text","fontSize":3.5,"color":"#222"},"encoding":{"x":{"field":"t","type":"quantitative","scale":{"domain":[0,150]},"axis":null},"y":{"field":"r","type":"nominal","scale":{"domain":["Number at risk","transfusions","no transfusions"]},"axis":{"title":null,"domain":false,"ticks":false,"labelFontSize":3.5,"labelPadding":9,"minExtent":60}},"text":{"field":"n"}}},
   {"width":98,"height":9,"view":{"stroke":"#9a9a9a","strokeWidth":0.5},"data":{"name":"leg"},"transform":[{"filter":"datum.lt=='tr'"}],"encoding":{"x":{"field":"col","type":"quantitative","scale":{"domain":[0.9,2.9]},"axis":null},"y":{"field":"row","type":"ordinal","scale":{"padding":0.6},"axis":null},"color":{"field":"g","type":"nominal","legend":null}},
    "layer":[{"transform":[{"filter":"datum.k=='ci'"}],"mark":{"type":"point","shape":"M-1,-0.4H1V0.4H-1Z","filled":true,"opacity":0.3,"size":110}},{"transform":[{"filter":"datum.k=='ln'"}],"mark":{"type":"point","shape":"M-1,0H1","filled":false,"opacity":1,"strokeWidth":0.7,"size":110}},{"mark":{"type":"text","align":"left","dx":7,"fontSize":2.6},"encoding":{"text":{"field":"label"},"color":{"value":"#444"}}}]},
   {"width":98,"height":9,"view":{"stroke":"#9a9a9a","strokeWidth":0.5},"data":{"name":"leg"},"transform":[{"filter":"datum.lt=='tr'"}],"encoding":{"x":{"field":"col","type":"quantitative","scale":{"domain":[0.9,2.9]},"axis":null},"y":{"field":"row","type":"ordinal","scale":{"padding":0.6},"axis":null},"color":{"field":"g","type":"nominal","legend":null}},
    "layer":[{"transform":[{"filter":"datum.k=='ci'"}],"mark":{"type":"point","shape":"M-1,-0.4H1V0.4H-1Z","filled":true,"opacity":0.3,"size":110}},{"transform":[{"filter":"datum.k=='ln'"}],"mark":{"type":"point","shape":"M-1,0H1","filled":false,"opacity":1,"strokeWidth":0.7,"size":110}},{"mark":{"type":"text","align":"left","dx":7,"fontSize":2.6},"encoding":{"text":{"field":"label"},"color":{"value":"#444"}}}]},

   {"width":98,"height":49,"title":{"text":"C","dx":-14},"data":{"name":"km"},"transform":[{"filter":"datum.p=='C'"}],"encoding":{"x":{"field":"t","type":"quantitative","scale":{"domain":[0,150]},"axis":{"values":[0,50,100,150],"title":"months from surgery"}},"color":{"field":"g","type":"nominal","legend":null}},
    "layer":[{"mark":"area","encoding":{"y":{"field":"lo","type":"quantitative","title":"progression free survival","scale":{"domain":[0,1]},"axis":{"values":[0,0.25,0.5,0.75,1],"labelAngle":-90,"labelExpr":"replace(format(datum.value,'.2~f'),'0.','.')"}},"y2":{"field":"hi"}}},
     {"mark":"line","encoding":{"y":{"field":"s","type":"quantitative","title":"progression free survival"}}},
     {"data":{"name":"pv"},"transform":[{"filter":"datum.p=='C'"}],"mark":{"type":"text","fontSize":6,"fontWeight":"normal"},"encoding":{"x":{"field":"t","type":"quantitative"},"y":{"field":"s","type":"quantitative","title":"progression free survival"},"text":{"field":"label"},"color":{"value":"#222"}}}]},
   {"width":98,"height":49,"title":{"text":"D","dx":-16},"data":{"name":"km"},"transform":[{"filter":"datum.p=='D'"}],"encoding":{"x":{"field":"t","type":"quantitative","scale":{"domain":[0,150]},"axis":{"values":[0,50,100,150],"title":"months from surgery"}},"color":{"field":"g","type":"nominal","legend":null}},
    "layer":[{"mark":"area","encoding":{"y":{"field":"lo","type":"quantitative","title":"overall survival","scale":{"domain":[0,1]},"axis":{"values":[0,0.25,0.5,0.75,1],"labelAngle":-90,"labelExpr":"replace(format(datum.value,'.2~f'),'0.','.')"}},"y2":{"field":"hi"}}},
     {"mark":"line","encoding":{"y":{"field":"s","type":"quantitative","title":"overall survival"}}},
     {"data":{"name":"pv"},"transform":[{"filter":"datum.p=='D'"}],"mark":{"type":"text","fontSize":5.5,"fontWeight":"bold"},"encoding":{"x":{"field":"t","type":"quantitative"},"y":{"field":"s","type":"quantitative","title":"overall survival"},"text":{"field":"label"},"color":{"value":"#222"}}}]},
   {"width":98,"height":10,"data":{"name":"risk"},"transform":[{"filter":"datum.p=='C'"}],"mark":{"type":"text","fontSize":3.5,"color":"#222"},"encoding":{"x":{"field":"t","type":"quantitative","scale":{"domain":[0,150]},"axis":null},"y":{"field":"r","type":"nominal","scale":{"domain":["Number at risk","Hemoglobin > 12 g/dl","Hemoglobin ≤ 12 g/dl"]},"axis":{"title":null,"domain":false,"ticks":false,"labelFontSize":3.5,"labelPadding":9,"minExtent":66}},"text":{"field":"n"}}},
   {"width":98,"height":10,"data":{"name":"risk"},"transform":[{"filter":"datum.p=='D'"}],"mark":{"type":"text","fontSize":3.5,"color":"#222"},"encoding":{"x":{"field":"t","type":"quantitative","scale":{"domain":[0,150]},"axis":null},"y":{"field":"r","type":"nominal","scale":{"domain":["Number at risk","Hemoglobin > 12 g/dl","Hemoglobin ≤ 12 g/dl"]},"axis":{"title":null,"domain":false,"ticks":false,"labelFontSize":3.5,"labelPadding":9,"minExtent":60}},"text":{"field":"n"}}},
   {"width":95,"height":8,"view":{"stroke":"#9a9a9a","strokeWidth":0.5},"data":{"name":"leg"},"transform":[{"filter":"datum.lt=='hb'"}],"encoding":{"x":{"field":"col","type":"quantitative","scale":{"domain":[0.9,2.9]},"axis":null},"y":{"field":"row","type":"ordinal","scale":{"padding":0.6},"axis":null},"color":{"field":"g","type":"nominal","legend":null}},
    "layer":[{"transform":[{"filter":"datum.k=='ci'"}],"mark":{"type":"point","shape":"M-1,-0.4H1V0.4H-1Z","filled":true,"opacity":0.3,"size":100}},{"transform":[{"filter":"datum.k=='ln'"}],"mark":{"type":"point","shape":"M-1,0H1","filled":false,"opacity":1,"strokeWidth":0.7,"size":100}},{"mark":{"type":"text","align":"left","dx":7,"fontSize":2.5},"encoding":{"text":{"field":"label"},"color":{"value":"#444"}}}]},
   {"width":95,"height":8,"view":{"stroke":"#9a9a9a","strokeWidth":0.5},"data":{"name":"leg"},"transform":[{"filter":"datum.lt=='hb'"}],"encoding":{"x":{"field":"col","type":"quantitative","scale":{"domain":[0.9,2.9]},"axis":null},"y":{"field":"row","type":"ordinal","scale":{"padding":0.6},"axis":null},"color":{"field":"g","type":"nominal","legend":null}},
    "layer":[{"transform":[{"filter":"datum.k=='ci'"}],"mark":{"type":"point","shape":"M-1,-0.4H1V0.4H-1Z","filled":true,"opacity":0.3,"size":100}},{"transform":[{"filter":"datum.k=='ln'"}],"mark":{"type":"point","shape":"M-1,0H1","filled":false,"opacity":1,"strokeWidth":0.7,"size":100}},{"mark":{"type":"text","align":"left","dx":7,"fontSize":2.5},"encoding":{"text":{"field":"label"},"color":{"value":"#444"}}}]},

   {"width":98,"height":57,"title":{"text":"E","dx":-14},"data":{"name":"km"},"transform":[{"filter":"datum.p=='E'"}],"encoding":{"x":{"field":"t","type":"quantitative","scale":{"domain":[0,150]},"axis":{"values":[0,50,100,150],"title":"months from surgery"}},"color":{"field":"g","type":"nominal","legend":null}},
    "layer":[{"mark":"area","encoding":{"y":{"field":"lo","type":"quantitative","title":"progression free survival","scale":{"domain":[0,1]},"axis":{"values":[0,0.25,0.5,0.75,1],"labelAngle":-90,"labelExpr":"replace(format(datum.value,'.2~f'),'0.','.')"}},"y2":{"field":"hi"}}},
     {"mark":"line","encoding":{"y":{"field":"s","type":"quantitative","title":"progression free survival"}}},
     {"data":{"name":"pv"},"transform":[{"filter":"datum.p=='E'"}],"mark":{"type":"text","fontSize":5.5,"fontStyle":"italic"},"encoding":{"x":{"field":"t","type":"quantitative"},"y":{"field":"s","type":"quantitative","title":"progression free survival"},"text":{"field":"label"},"color":{"value":"#222"}}}]},
   {"width":98,"height":57,"title":{"text":"F","dx":-16},"data":{"name":"km"},"transform":[{"filter":"datum.p=='F'"}],"encoding":{"x":{"field":"t","type":"quantitative","scale":{"domain":[0,150]},"axis":{"values":[0,50,100,150],"title":"months from surgery"}},"color":{"field":"g","type":"nominal","legend":null}},
    "layer":[{"mark":"area","encoding":{"y":{"field":"lo","type":"quantitative","title":"overall survival","scale":{"domain":[0,1]},"axis":{"values":[0,0.25,0.5,0.75,1],"labelAngle":-90,"labelExpr":"replace(format(datum.value,'.2~f'),'0.','.')"}},"y2":{"field":"hi"}}},
     {"mark":"line","encoding":{"y":{"field":"s","type":"quantitative","title":"overall survival"}}},
     {"data":{"name":"pv"},"transform":[{"filter":"datum.p=='F'"}],"mark":{"type":"text","fontSize":5.5,"fontWeight":"bold"},"encoding":{"x":{"field":"t","type":"quantitative"},"y":{"field":"s","type":"quantitative","title":"overall survival"},"text":{"field":"label"},"color":{"value":"#222"}}}]},
   {"width":98,"height":11,"data":{"name":"risk"},"transform":[{"filter":"datum.p=='E'"}],"mark":{"type":"text","fontSize":3.5,"color":"#222"},"encoding":{"x":{"field":"t","type":"quantitative","scale":{"domain":[0,150]},"axis":null},"y":{"field":"r","type":"nominal","scale":{"domain":["Number at risk","GS Score < 14 points","GS score ≥ 14 points"]},"axis":{"title":null,"domain":false,"ticks":false,"labelFontSize":3.5,"labelPadding":6,"minExtent":66}},"text":{"field":"n"}}},
   {"width":98,"height":11,"data":{"name":"risk"},"transform":[{"filter":"datum.p=='F'"}],"mark":{"type":"text","fontSize":3.5,"color":"#222"},"encoding":{"x":{"field":"t","type":"quantitative","scale":{"domain":[0,150]},"axis":null},"y":{"field":"r","type":"nominal","scale":{"domain":["Number at risk","GS Score < 14 points","GS score ≥ 14 points"]},"axis":{"title":null,"domain":false,"ticks":false,"labelFontSize":3.5,"labelPadding":6,"minExtent":60}},"text":{"field":"n"}}},
   {"width":62,"height":10,"view":{"stroke":"#9a9a9a","strokeWidth":0.5},"data":{"name":"leg"},"transform":[{"filter":"datum.lt=='gs'"}],"encoding":{"x":{"field":"col","type":"quantitative","scale":{"domain":[0.9,2.9]},"axis":null},"y":{"field":"row","type":"ordinal","scale":{"padding":0.6},"axis":null},"color":{"field":"g","type":"nominal","legend":null}},
    "layer":[{"transform":[{"filter":"datum.k=='ci'"}],"mark":{"type":"point","shape":"M-1,-0.4H1V0.4H-1Z","filled":true,"opacity":0.3,"size":80}},{"transform":[{"filter":"datum.k=='ln'"}],"mark":{"type":"point","shape":"M-1,0H1","filled":false,"opacity":1,"strokeWidth":0.7,"size":80}},{"mark":{"type":"text","align":"left","dx":6,"fontSize":2.6},"encoding":{"text":{"field":"label"},"color":{"value":"#444"}}}]},
   {"width":62,"height":10,"view":{"stroke":"#9a9a9a","strokeWidth":0.5},"data":{"name":"leg"},"transform":[{"filter":"datum.lt=='gs'"}],"encoding":{"x":{"field":"col","type":"quantitative","scale":{"domain":[0.9,2.9]},"axis":null},"y":{"field":"row","type":"ordinal","scale":{"padding":0.6},"axis":null},"color":{"field":"g","type":"nominal","legend":null}},
    "layer":[{"transform":[{"filter":"datum.k=='ci'"}],"mark":{"type":"point","shape":"M-1,-0.4H1V0.4H-1Z","filled":true,"opacity":0.3,"size":80}},{"transform":[{"filter":"datum.k=='ln'"}],"mark":{"type":"point","shape":"M-1,0H1","filled":false,"opacity":1,"strokeWidth":0.7,"size":80}},{"mark":{"type":"text","align":"left","dx":6,"fontSize":2.6},"encoding":{"text":{"field":"label"},"color":{"value":"#444"}}}]},

   {"width":98,"height":52,"title":{"text":"G","dx":-14},"data":{"name":"km"},"transform":[{"filter":"datum.p=='G'"}],"encoding":{"x":{"field":"t","type":"quantitative","scale":{"domain":[0,150]},"axis":{"values":[0,50,100,150],"title":"months from surgery"}},"color":{"field":"g","type":"nominal","legend":null}},
    "layer":[{"mark":"line","encoding":{"y":{"field":"s","type":"quantitative","title":"progression free survival","scale":{"domain":[0,1]},"axis":{"values":[0,0.25,0.5,0.75,1],"labelAngle":-90,"format":".2f"}}}},
     {"data":{"name":"pv"},"transform":[{"filter":"datum.p=='G'"}],"mark":{"type":"text","fontSize":5.5,"fontWeight":"bold"},"encoding":{"x":{"field":"t","type":"quantitative"},"y":{"field":"s","type":"quantitative","title":"progression free survival"},"text":{"field":"label"},"color":{"value":"#222"}}}]},
   {"width":98,"height":52,"title":{"text":"H","dx":-16},"data":{"name":"km"},"transform":[{"filter":"datum.p=='H'"}],"encoding":{"x":{"field":"t","type":"quantitative","scale":{"domain":[0,150]},"axis":{"values":[0,50,100,150],"title":"months from surgery"}},"color":{"field":"g","type":"nominal","legend":null}},
    "layer":[{"mark":"line","encoding":{"y":{"field":"s","type":"quantitative","title":"overall survival","scale":{"domain":[0,1]},"axis":{"values":[0,0.25,0.5,0.75,1],"labelAngle":-90,"format":".2f"}}}},
     {"data":{"name":"pv"},"transform":[{"filter":"datum.p=='H'"}],"mark":{"type":"text","fontSize":5.5,"fontWeight":"bold"},"encoding":{"x":{"field":"t","type":"quantitative"},"y":{"field":"s","type":"quantitative","title":"overall survival"},"text":{"field":"label"},"color":{"value":"#222"}}}]},
   {"width":98,"height":19,"data":{"name":"risk"},"transform":[{"filter":"datum.p=='G'"}],"mark":{"type":"text","fontSize":3.2,"color":"#222"},"encoding":{"x":{"field":"t","type":"quantitative","scale":{"domain":[0,150]},"axis":null},"y":{"field":"r","type":"nominal","scale":{"domain":["Number at risk","GS-non-frail + non-transfused","GS-non-frail + transfused","GS-frail + non-transfused","GS-frail + transfused"]},"axis":{"title":null,"domain":false,"ticks":false,"labelFontSize":2.7,"labelPadding":13,"minExtent":66}},"text":{"field":"n"}}},
   {"width":98,"height":19,"data":{"name":"risk"},"transform":[{"filter":"datum.p=='H'"}],"mark":{"type":"text","fontSize":3.2,"color":"#222"},"encoding":{"x":{"field":"t","type":"quantitative","scale":{"domain":[0,150]},"axis":null},"y":{"field":"r","type":"nominal","scale":{"domain":["Number at risk","GS-non-frail + non-transfused","GS-non-frail + transfused","GS-frail + non-transfused","GS-frail + transfused"]},"axis":{"title":null,"domain":false,"ticks":false,"labelFontSize":2.7,"labelPadding":13,"minExtent":60}},"text":{"field":"n"}}},
   {"width":96,"height":11,"view":{"stroke":"#9a9a9a","strokeWidth":0.5},"data":{"name":"leg"},"transform":[{"filter":"datum.lt=='g4'"}],"encoding":{"x":{"field":"col","type":"quantitative","scale":{"domain":[0.9,2.9]},"axis":null},"y":{"field":"row","type":"ordinal","scale":{"padding":0.6},"axis":null},"color":{"field":"g","type":"nominal","legend":null}},
    "layer":[{"mark":{"type":"point","shape":"M-1,0H1","filled":false,"opacity":1,"strokeWidth":0.7,"size":110}},{"mark":{"type":"text","align":"left","dx":7,"fontSize":2.4},"encoding":{"text":{"field":"label"},"color":{"value":"#444"}}}]},
   {"width":96,"height":11,"view":{"stroke":"#9a9a9a","strokeWidth":0.5},"data":{"name":"leg"},"transform":[{"filter":"datum.lt=='g4'"}],"encoding":{"x":{"field":"col","type":"quantitative","scale":{"domain":[0.9,2.9]},"axis":null},"y":{"field":"row","type":"ordinal","scale":{"padding":0.6},"axis":null},"color":{"field":"g","type":"nominal","legend":null}},
    "layer":[{"mark":{"type":"point","shape":"M-1,0H1","filled":false,"opacity":1,"strokeWidth":0.7,"size":110}},{"mark":{"type":"text","align":"left","dx":7,"fontSize":2.4},"encoding":{"text":{"field":"label"},"color":{"value":"#444"}}}]}
  ]
 },
 {
  "title": {"text": "Ovarian cancer", "fontSize": 5.5, "fontWeight": "normal", "frame": "bounds", "anchor": "start", "offset": -15, "color": "#333"},
  "columns": 2, "align": "each", "spacing": {"row": 1, "column": 17},
  "concat": [
   {"width":96,"height":56,"title":{"text":"I","dx":-29},"data":{"name":"km"},"transform":[{"filter":"datum.p=='I'"}],"encoding":{"x":{"field":"t","type":"quantitative","scale":{"domain":[0,150]},"axis":{"values":[0,50,100,150],"title":"months from surgery"}},"color":{"field":"g","type":"nominal","legend":null}},
    "layer":[{"mark":"area","encoding":{"y":{"field":"lo","type":"quantitative","title":"progression free survival","scale":{"domain":[0,1]},"axis":{"values":[0,0.25,0.5,0.75,1],"labelAngle":-90,"labelExpr":"replace(format(datum.value,'.2~f'),'0.','.')"}},"y2":{"field":"hi"}}},
     {"mark":"line","encoding":{"y":{"field":"s","type":"quantitative","title":"progression free survival"}}},
     {"data":{"name":"pv"},"transform":[{"filter":"datum.p=='I'"}],"mark":{"type":"text","fontSize":5.5},"encoding":{"x":{"field":"t","type":"quantitative"},"y":{"field":"s","type":"quantitative","title":"progression free survival"},"text":{"field":"label"},"color":{"value":"#222"}}}]},
   {"width":96,"height":56,"title":{"text":"J","dx":-56},"data":{"name":"km"},"transform":[{"filter":"datum.p=='J'"}],"encoding":{"x":{"field":"t","type":"quantitative","scale":{"domain":[0,150]},"axis":{"values":[0,50,100,150],"title":"months from surgery"}},"color":{"field":"g","type":"nominal","legend":null}},
    "layer":[{"mark":"area","encoding":{"y":{"field":"lo","type":"quantitative","title":"overall survival","scale":{"domain":[0,1]},"axis":{"values":[0,0.25,0.5,0.75,1],"labelAngle":-90,"labelExpr":"replace(format(datum.value,'.2~f'),'0.','.')"}},"y2":{"field":"hi"}}},
     {"mark":"line","encoding":{"y":{"field":"s","type":"quantitative","title":"overall survival"}}},
     {"data":{"name":"pv"},"transform":[{"filter":"datum.p=='J'"}],"mark":{"type":"text","fontSize":5.5,"fontStyle":"italic"},"encoding":{"x":{"field":"t","type":"quantitative"},"y":{"field":"s","type":"quantitative","title":"overall survival"},"text":{"field":"label"},"color":{"value":"#222"}}}]},
   {"width":96,"height":11,"data":{"name":"risk"},"transform":[{"filter":"datum.p=='I'"}],"mark":{"type":"text","fontSize":3.5,"color":"#222"},"encoding":{"x":{"field":"t","type":"quantitative","scale":{"domain":[0,150]},"axis":null},"y":{"field":"r","type":"nominal","scale":{"domain":["Number at risk","transfusions","no transfusions"]},"axis":{"title":null,"domain":false,"ticks":false,"labelFontSize":3.5,"labelPadding":9,"minExtent":72}},"text":{"field":"n"}}},
   {"width":96,"height":11,"data":{"name":"risk"},"transform":[{"filter":"datum.p=='J'"}],"mark":{"type":"text","fontSize":3.5,"color":"#222"},"encoding":{"x":{"field":"t","type":"quantitative","scale":{"domain":[0,150]},"axis":null},"y":{"field":"r","type":"nominal","scale":{"domain":["Number at risk","transfusions","no transfusions"]},"axis":{"title":null,"domain":false,"ticks":false,"labelFontSize":3.5,"labelPadding":9,"minExtent":60}},"text":{"field":"n"}}},
   {"width":91,"height":9,"view":{"stroke":"#9a9a9a","strokeWidth":0.5},"data":{"name":"leg"},"transform":[{"filter":"datum.lt=='tr'"}],"encoding":{"x":{"field":"col","type":"quantitative","scale":{"domain":[0.9,2.9]},"axis":null},"y":{"field":"row","type":"ordinal","scale":{"padding":0.6},"axis":null},"color":{"field":"g","type":"nominal","legend":null}},
    "layer":[{"transform":[{"filter":"datum.k=='ci'"}],"mark":{"type":"point","shape":"M-1,-0.4H1V0.4H-1Z","filled":true,"opacity":0.3,"size":110}},{"transform":[{"filter":"datum.k=='ln'"}],"mark":{"type":"point","shape":"M-1,0H1","filled":false,"opacity":1,"strokeWidth":0.7,"size":110}},{"mark":{"type":"text","align":"left","dx":7,"fontSize":2.5},"encoding":{"text":{"field":"label"},"color":{"value":"#444"}}}]},
   {"width":91,"height":9,"view":{"stroke":"#9a9a9a","strokeWidth":0.5},"data":{"name":"leg"},"transform":[{"filter":"datum.lt=='tr'"}],"encoding":{"x":{"field":"col","type":"quantitative","scale":{"domain":[0.9,2.9]},"axis":null},"y":{"field":"row","type":"ordinal","scale":{"padding":0.6},"axis":null},"color":{"field":"g","type":"nominal","legend":null}},
    "layer":[{"transform":[{"filter":"datum.k=='ci'"}],"mark":{"type":"point","shape":"M-1,-0.4H1V0.4H-1Z","filled":true,"opacity":0.3,"size":110}},{"transform":[{"filter":"datum.k=='ln'"}],"mark":{"type":"point","shape":"M-1,0H1","filled":false,"opacity":1,"strokeWidth":0.7,"size":110}},{"mark":{"type":"text","align":"left","dx":7,"fontSize":2.5},"encoding":{"text":{"field":"label"},"color":{"value":"#444"}}}]},

   {"width":96,"height":49,"title":{"text":"K","dx":-29},"data":{"name":"km"},"transform":[{"filter":"datum.p=='K'"}],"encoding":{"x":{"field":"t","type":"quantitative","scale":{"domain":[0,150]},"axis":{"values":[0,50,100,150],"title":"months from surgery"}},"color":{"field":"g","type":"nominal","legend":null}},
    "layer":[{"mark":"area","encoding":{"y":{"field":"lo","type":"quantitative","title":"progression free survival","scale":{"domain":[0,1]},"axis":{"values":[0,0.25,0.5,0.75,1],"labelAngle":-90,"labelExpr":"replace(format(datum.value,'.2~f'),'0.','.')"}},"y2":{"field":"hi"}}},
     {"mark":"line","encoding":{"y":{"field":"s","type":"quantitative","title":"progression free survival"}}},
     {"data":{"name":"pv"},"transform":[{"filter":"datum.p=='K'"}],"mark":{"type":"text","fontSize":5.5,"fontStyle":"italic"},"encoding":{"x":{"field":"t","type":"quantitative"},"y":{"field":"s","type":"quantitative","title":"progression free survival"},"text":{"field":"label"},"color":{"value":"#222"}}}]},
   {"width":96,"height":49,"title":{"text":"L","dx":-56},"data":{"name":"km"},"transform":[{"filter":"datum.p=='L'"}],"encoding":{"x":{"field":"t","type":"quantitative","scale":{"domain":[0,150]},"axis":{"values":[0,50,100,150],"title":"months from surgery"}},"color":{"field":"g","type":"nominal","legend":null}},
    "layer":[{"mark":"area","encoding":{"y":{"field":"lo","type":"quantitative","title":"overall survival","scale":{"domain":[0,1]},"axis":{"values":[0,0.25,0.5,0.75,1],"labelAngle":-90,"labelExpr":"replace(format(datum.value,'.2~f'),'0.','.')"}},"y2":{"field":"hi"}}},
     {"mark":"line","encoding":{"y":{"field":"s","type":"quantitative","title":"overall survival"}}},
     {"data":{"name":"pv"},"transform":[{"filter":"datum.p=='L'"}],"mark":{"type":"text","fontSize":5.5,"fontWeight":"bold"},"encoding":{"x":{"field":"t","type":"quantitative"},"y":{"field":"s","type":"quantitative","title":"overall survival"},"text":{"field":"label"},"color":{"value":"#222"}}}]},
   {"width":96,"height":10,"data":{"name":"risk"},"transform":[{"filter":"datum.p=='K'"}],"mark":{"type":"text","fontSize":3.5,"color":"#222"},"encoding":{"x":{"field":"t","type":"quantitative","scale":{"domain":[0,150]},"axis":null},"y":{"field":"r","type":"nominal","scale":{"domain":["Number at risk","Hemoglobin > 12 g/dl","Hemoglobin ≤ 12 g/dl"]},"axis":{"title":null,"domain":false,"ticks":false,"labelFontSize":3.5,"labelPadding":9,"minExtent":72}},"text":{"field":"n"}}},
   {"width":96,"height":10,"data":{"name":"risk"},"transform":[{"filter":"datum.p=='L'"}],"mark":{"type":"text","fontSize":3.5,"color":"#222"},"encoding":{"x":{"field":"t","type":"quantitative","scale":{"domain":[0,150]},"axis":null},"y":{"field":"r","type":"nominal","scale":{"domain":["Number at risk","Hemoglobin > 12 g/dl","Hemoglobin ≤ 12 g/dl"]},"axis":{"title":null,"domain":false,"ticks":false,"labelFontSize":3.5,"labelPadding":9,"minExtent":60}},"text":{"field":"n"}}},
   {"width":93,"height":8,"view":{"stroke":"#9a9a9a","strokeWidth":0.5},"data":{"name":"leg"},"transform":[{"filter":"datum.lt=='hb'"}],"encoding":{"x":{"field":"col","type":"quantitative","scale":{"domain":[0.9,2.9]},"axis":null},"y":{"field":"row","type":"ordinal","scale":{"padding":0.6},"axis":null},"color":{"field":"g","type":"nominal","legend":null}},
    "layer":[{"transform":[{"filter":"datum.k=='ci'"}],"mark":{"type":"point","shape":"M-1,-0.4H1V0.4H-1Z","filled":true,"opacity":0.3,"size":100}},{"transform":[{"filter":"datum.k=='ln'"}],"mark":{"type":"point","shape":"M-1,0H1","filled":false,"opacity":1,"strokeWidth":0.7,"size":100}},{"mark":{"type":"text","align":"left","dx":7,"fontSize":2.5},"encoding":{"text":{"field":"label"},"color":{"value":"#444"}}}]},
   {"width":93,"height":8,"view":{"stroke":"#9a9a9a","strokeWidth":0.5},"data":{"name":"leg"},"transform":[{"filter":"datum.lt=='hb'"}],"encoding":{"x":{"field":"col","type":"quantitative","scale":{"domain":[0.9,2.9]},"axis":null},"y":{"field":"row","type":"ordinal","scale":{"padding":0.6},"axis":null},"color":{"field":"g","type":"nominal","legend":null}},
    "layer":[{"transform":[{"filter":"datum.k=='ci'"}],"mark":{"type":"point","shape":"M-1,-0.4H1V0.4H-1Z","filled":true,"opacity":0.3,"size":100}},{"transform":[{"filter":"datum.k=='ln'"}],"mark":{"type":"point","shape":"M-1,0H1","filled":false,"opacity":1,"strokeWidth":0.7,"size":100}},{"mark":{"type":"text","align":"left","dx":7,"fontSize":2.5},"encoding":{"text":{"field":"label"},"color":{"value":"#444"}}}]},

   {"width":96,"height":57,"title":{"text":"M","dx":-30},"data":{"name":"km"},"transform":[{"filter":"datum.p=='M'"}],"encoding":{"x":{"field":"t","type":"quantitative","scale":{"domain":[0,150]},"axis":{"values":[0,50,100,150],"title":"months from surgery"}},"color":{"field":"g","type":"nominal","legend":null}},
    "layer":[{"mark":"area","encoding":{"y":{"field":"lo","type":"quantitative","title":"progression free survival","scale":{"domain":[0,1]},"axis":{"values":[0,0.25,0.5,0.75,1],"labelAngle":-90,"labelExpr":"replace(format(datum.value,'.2~f'),'0.','.')"}},"y2":{"field":"hi"}}},
     {"mark":"line","encoding":{"y":{"field":"s","type":"quantitative","title":"progression free survival"}}},
     {"data":{"name":"pv"},"transform":[{"filter":"datum.p=='M'"}],"mark":{"type":"text","fontSize":5.5,"fontWeight":"bold"},"encoding":{"x":{"field":"t","type":"quantitative"},"y":{"field":"s","type":"quantitative","title":"progression free survival"},"text":{"field":"label"},"color":{"value":"#222"}}}]},
   {"width":96,"height":57,"title":{"text":"N","dx":-57},"data":{"name":"km"},"transform":[{"filter":"datum.p=='N'"}],"encoding":{"x":{"field":"t","type":"quantitative","scale":{"domain":[0,150]},"axis":{"values":[0,50,100,150],"title":"months from surgery"}},"color":{"field":"g","type":"nominal","legend":null}},
    "layer":[{"mark":"area","encoding":{"y":{"field":"lo","type":"quantitative","title":"overall survival","scale":{"domain":[0,1]},"axis":{"values":[0,0.25,0.5,0.75,1],"labelAngle":-90,"labelExpr":"replace(format(datum.value,'.2~f'),'0.','.')"}},"y2":{"field":"hi"}}},
     {"mark":"line","encoding":{"y":{"field":"s","type":"quantitative","title":"overall survival"}}},
     {"data":{"name":"pv"},"transform":[{"filter":"datum.p=='N'"}],"mark":{"type":"text","fontSize":5.5},"encoding":{"x":{"field":"t","type":"quantitative"},"y":{"field":"s","type":"quantitative","title":"overall survival"},"text":{"field":"label"},"color":{"value":"#222"}}}]},
   {"width":96,"height":11,"data":{"name":"risk"},"transform":[{"filter":"datum.p=='M'"}],"mark":{"type":"text","fontSize":3.5,"color":"#222"},"encoding":{"x":{"field":"t","type":"quantitative","scale":{"domain":[0,150]},"axis":null},"y":{"field":"r","type":"nominal","scale":{"domain":["Number at risk","GS Score < 14 points","GS score ≥ 14 points"]},"axis":{"title":null,"domain":false,"ticks":false,"labelFontSize":3.5,"labelPadding":6,"minExtent":72}},"text":{"field":"n"}}},
   {"width":96,"height":11,"data":{"name":"risk"},"transform":[{"filter":"datum.p=='N'"}],"mark":{"type":"text","fontSize":3.5,"color":"#222"},"encoding":{"x":{"field":"t","type":"quantitative","scale":{"domain":[0,150]},"axis":null},"y":{"field":"r","type":"nominal","scale":{"domain":["Number at risk","GS Score < 14 points","GS score ≥ 14 points"]},"axis":{"title":null,"domain":false,"ticks":false,"labelFontSize":3.5,"labelPadding":6,"minExtent":60}},"text":{"field":"n"}}},
   {"width":62,"height":10,"view":{"stroke":"#9a9a9a","strokeWidth":0.5},"data":{"name":"leg"},"transform":[{"filter":"datum.lt=='gs'"}],"encoding":{"x":{"field":"col","type":"quantitative","scale":{"domain":[0.9,2.9]},"axis":null},"y":{"field":"row","type":"ordinal","scale":{"padding":0.6},"axis":null},"color":{"field":"g","type":"nominal","legend":null}},
    "layer":[{"transform":[{"filter":"datum.k=='ci'"}],"mark":{"type":"point","shape":"M-1,-0.4H1V0.4H-1Z","filled":true,"opacity":0.3,"size":80}},{"transform":[{"filter":"datum.k=='ln'"}],"mark":{"type":"point","shape":"M-1,0H1","filled":false,"opacity":1,"strokeWidth":0.7,"size":80}},{"mark":{"type":"text","align":"left","dx":6,"fontSize":2.6},"encoding":{"text":{"field":"label"},"color":{"value":"#444"}}}]},
   {"width":62,"height":10,"view":{"stroke":"#9a9a9a","strokeWidth":0.5},"data":{"name":"leg"},"transform":[{"filter":"datum.lt=='gs'"}],"encoding":{"x":{"field":"col","type":"quantitative","scale":{"domain":[0.9,2.9]},"axis":null},"y":{"field":"row","type":"ordinal","scale":{"padding":0.6},"axis":null},"color":{"field":"g","type":"nominal","legend":null}},
    "layer":[{"transform":[{"filter":"datum.k=='ci'"}],"mark":{"type":"point","shape":"M-1,-0.4H1V0.4H-1Z","filled":true,"opacity":0.3,"size":80}},{"transform":[{"filter":"datum.k=='ln'"}],"mark":{"type":"point","shape":"M-1,0H1","filled":false,"opacity":1,"strokeWidth":0.7,"size":80}},{"mark":{"type":"text","align":"left","dx":6,"fontSize":2.6},"encoding":{"text":{"field":"label"},"color":{"value":"#444"}}}]},

   {"width":96,"height":52,"title":{"text":"O","dx":-12},"data":{"name":"km"},"transform":[{"filter":"datum.p=='O'"}],"encoding":{"x":{"field":"t","type":"quantitative","scale":{"domain":[0,150]},"axis":{"values":[0,50,100,150],"title":"months from surgery"}},"color":{"field":"g","type":"nominal","legend":null}},
    "layer":[{"mark":"line","encoding":{"y":{"field":"s","type":"quantitative","title":"progression free survival","scale":{"domain":[0,1]},"axis":{"values":[0,0.25,0.5,0.75,1],"labelAngle":-90,"format":".2f"}}}},
     {"data":{"name":"pv"},"transform":[{"filter":"datum.p=='O'"}],"mark":{"type":"text","fontSize":5.5,"fontWeight":"bold"},"encoding":{"x":{"field":"t","type":"quantitative"},"y":{"field":"s","type":"quantitative","title":"progression free survival"},"text":{"field":"label"},"color":{"value":"#222"}}}]},
   {"width":96,"height":52,"title":{"text":"P","dx":-15},"data":{"name":"km"},"transform":[{"filter":"datum.p=='P'"}],"encoding":{"x":{"field":"t","type":"quantitative","scale":{"domain":[0,150]},"axis":{"values":[0,50,100,150],"title":"months from surgery"}},"color":{"field":"g","type":"nominal","legend":null}},
    "layer":[{"mark":"line","encoding":{"y":{"field":"s","type":"quantitative","title":"overall survival","scale":{"domain":[0,1]},"axis":{"values":[0,0.25,0.5,0.75,1],"labelAngle":-90,"format":".2f"}}}},
     {"data":{"name":"pv"},"transform":[{"filter":"datum.p=='P'"}],"mark":{"type":"text","fontSize":5.5},"encoding":{"x":{"field":"t","type":"quantitative"},"y":{"field":"s","type":"quantitative","title":"overall survival"},"text":{"field":"label"},"color":{"value":"#222"}}}]},
   {"width":96,"height":19,"data":{"name":"risk"},"transform":[{"filter":"datum.p=='O'"}],"mark":{"type":"text","fontSize":3.2,"color":"#222"},"encoding":{"x":{"field":"t","type":"quantitative","scale":{"domain":[0,150]},"axis":null},"y":{"field":"r","type":"nominal","scale":{"domain":["Number at risk","GS-non-frail + non-transfused","GS-non-frail + transfused","GS-frail + non-transfused","GS-frail + transfused"]},"axis":{"title":null,"domain":false,"ticks":false,"labelFontSize":2.7,"labelPadding":13,"minExtent":72}},"text":{"field":"n"}}},
   {"width":96,"height":19,"data":{"name":"risk"},"transform":[{"filter":"datum.p=='P'"}],"mark":{"type":"text","fontSize":3.2,"color":"#222"},"encoding":{"x":{"field":"t","type":"quantitative","scale":{"domain":[0,150]},"axis":null},"y":{"field":"r","type":"nominal","scale":{"domain":["Number at risk","GS-non-frail + non-transfused","GS-non-frail + transfused","GS-frail + non-transfused","GS-frail + transfused"]},"axis":{"title":null,"domain":false,"ticks":false,"labelFontSize":2.7,"labelPadding":13,"minExtent":60}},"text":{"field":"n"}}},
   {"width":96,"height":11,"view":{"stroke":"#9a9a9a","strokeWidth":0.5},"data":{"name":"leg"},"transform":[{"filter":"datum.lt=='g4'"}],"encoding":{"x":{"field":"col","type":"quantitative","scale":{"domain":[0.9,2.9]},"axis":null},"y":{"field":"row","type":"ordinal","scale":{"padding":0.6},"axis":null},"color":{"field":"g","type":"nominal","legend":null}},
    "layer":[{"mark":{"type":"point","shape":"M-1,0H1","filled":false,"opacity":1,"strokeWidth":0.7,"size":110}},{"mark":{"type":"text","align":"left","dx":7,"fontSize":2.4},"encoding":{"text":{"field":"label"},"color":{"value":"#444"}}}]},
   {"width":96,"height":11,"view":{"stroke":"#9a9a9a","strokeWidth":0.5},"data":{"name":"leg"},"transform":[{"filter":"datum.lt=='g4'"}],"encoding":{"x":{"field":"col","type":"quantitative","scale":{"domain":[0.9,2.9]},"axis":null},"y":{"field":"row","type":"ordinal","scale":{"padding":0.6},"axis":null},"color":{"field":"g","type":"nominal","legend":null}},
    "layer":[{"mark":{"type":"point","shape":"M-1,0H1","filled":false,"opacity":1,"strokeWidth":0.7,"size":110}},{"mark":{"type":"text","align":"left","dx":7,"fontSize":2.4},"encoding":{"text":{"field":"label"},"color":{"value":"#444"}}}]}
  ]
 }
]
}
